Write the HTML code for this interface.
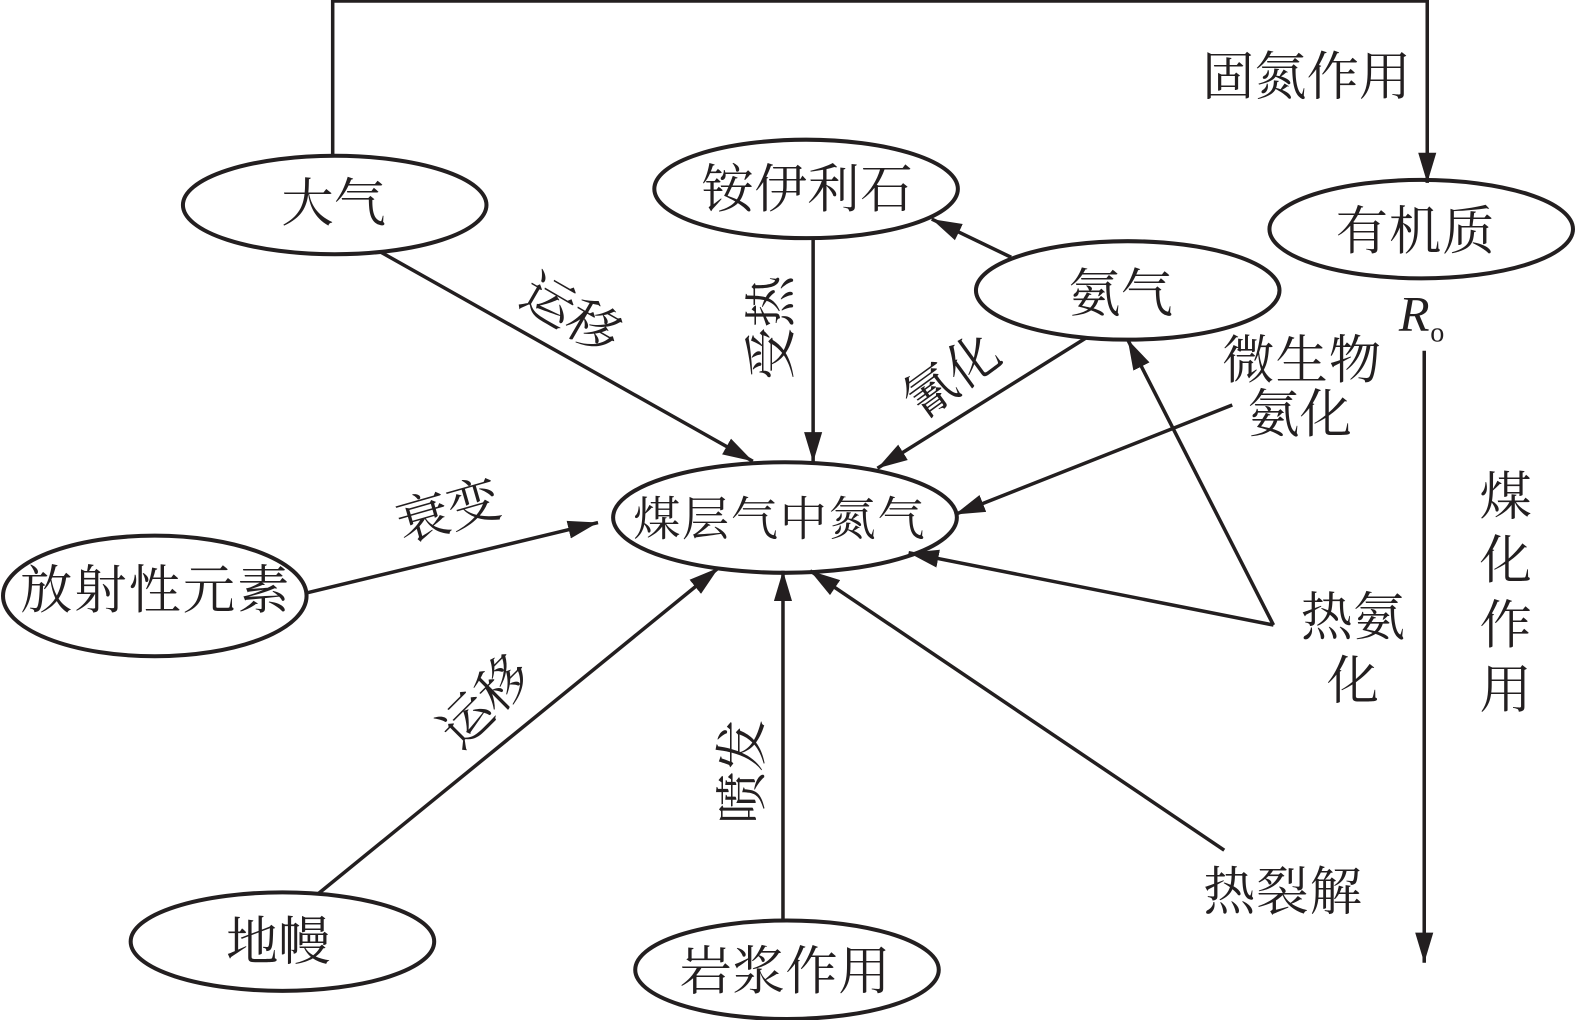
<!DOCTYPE html>
<html><head><meta charset="utf-8">
<style>html,body{margin:0;padding:0;background:#fff}svg{display:block}
text{font-family:"Liberation Serif","Noto Serif CJK SC",serif;font-size:52px;fill:#231f20;text-anchor:middle}</style></head>
<body>
<svg width="1575" height="1020" viewBox="0 0 1567 1015" preserveAspectRatio="none" xmlns="http://www.w3.org/2000/svg">
<defs><marker id="a" markerUnits="userSpaceOnUse" markerWidth="32" markerHeight="22" refX="30" refY="10" orient="auto"><path d="M0 1L30 10L0 19Z" fill="#231f20"/></marker></defs>
<g fill="#fff" stroke="#231f20" stroke-width="4">
<ellipse cx="333" cy="204" rx="151" ry="49"/>
<ellipse cx="802" cy="188" rx="151" ry="49"/>
<ellipse cx="1122" cy="289" rx="151" ry="49"/>
<ellipse cx="1414" cy="228" rx="151" ry="49"/>
<ellipse cx="781" cy="515" rx="171" ry="55"/>
<ellipse cx="154" cy="593" rx="151" ry="60"/>
<ellipse cx="281" cy="937" rx="151" ry="49"/>
<ellipse cx="783" cy="965" rx="151" ry="49"/>
</g>
<g fill="none" stroke="#231f20" stroke-width="3.5">
<path d="M331 155V1H1420V182" marker-end="url(#a)"/>
<path d="M379 251L749 459" marker-end="url(#a)"/>
<path d="M809 238V460" marker-end="url(#a)"/>
<path d="M1006 256L927 218" marker-end="url(#a)"/>
<path d="M1081 336L873 466" marker-end="url(#a)"/>
<path d="M1226 403L950 512" marker-end="url(#a)"/>
<path d="M1267 622L1122 338" marker-end="url(#a)"/>
<path d="M1267 622L904 550" marker-end="url(#a)"/>
<path d="M305 590L595 520" marker-end="url(#a)"/>
<path d="M317 889L715 565" marker-end="url(#a)"/>
<path d="M779 917V568" marker-end="url(#a)"/>
<path d="M1218 846L806 568" marker-end="url(#a)"/>
<path d="M1417 349V958" marker-end="url(#a)"/>
</g>
<text x="332" y="220" textLength="104">大气</text>
<text x="803" y="206" textLength="210">铵伊利石</text>
<text x="1115" y="310" textLength="104">氨气</text>
<text x="1408" y="248" textLength="158">有机质</text>
<text x="775" y="533" style="font-size:47px" textLength="290">煤层气中氮气</text>
<text x="154" y="605" textLength="268">放射性元素</text>
<text x="277" y="955" textLength="104">地幔</text>
<text x="781" y="984" textLength="210">岩浆作用</text>
<text x="1300" y="94" textLength="208">固氮作用</text>
<text x="1295" y="376" textLength="158">微生物</text>
<text x="1293" y="430" textLength="104">氨化</text>
<text x="1346" y="632" textLength="104">热氨</text>
<text x="1346" y="695">化</text>
<text x="1276" y="905" textLength="158">热裂解</text>
<text x="1498" y="512">煤</text>
<text x="1498" y="575">化</text>
<text x="1498" y="640">作</text>
<text x="1498" y="704">用</text>
<text x="1407" y="329" style="font-style:italic;font-size:50px">R</text>
<text x="1430" y="340" style="font-size:28px">o</text>
<text transform="translate(559 328) rotate(30)" textLength="104">运移</text>
<text transform="translate(785 326) rotate(-90)" textLength="104">受热</text>
<text transform="translate(957 389) rotate(-36)" textLength="104">氰化</text>
<text transform="translate(451 526) rotate(-16)" textLength="104">衰变</text>
<text transform="translate(495 711) rotate(-45)" textLength="104">运移</text>
<text transform="translate(756 768) rotate(-90)" textLength="104">喷发</text>
</svg>
</body></html>
